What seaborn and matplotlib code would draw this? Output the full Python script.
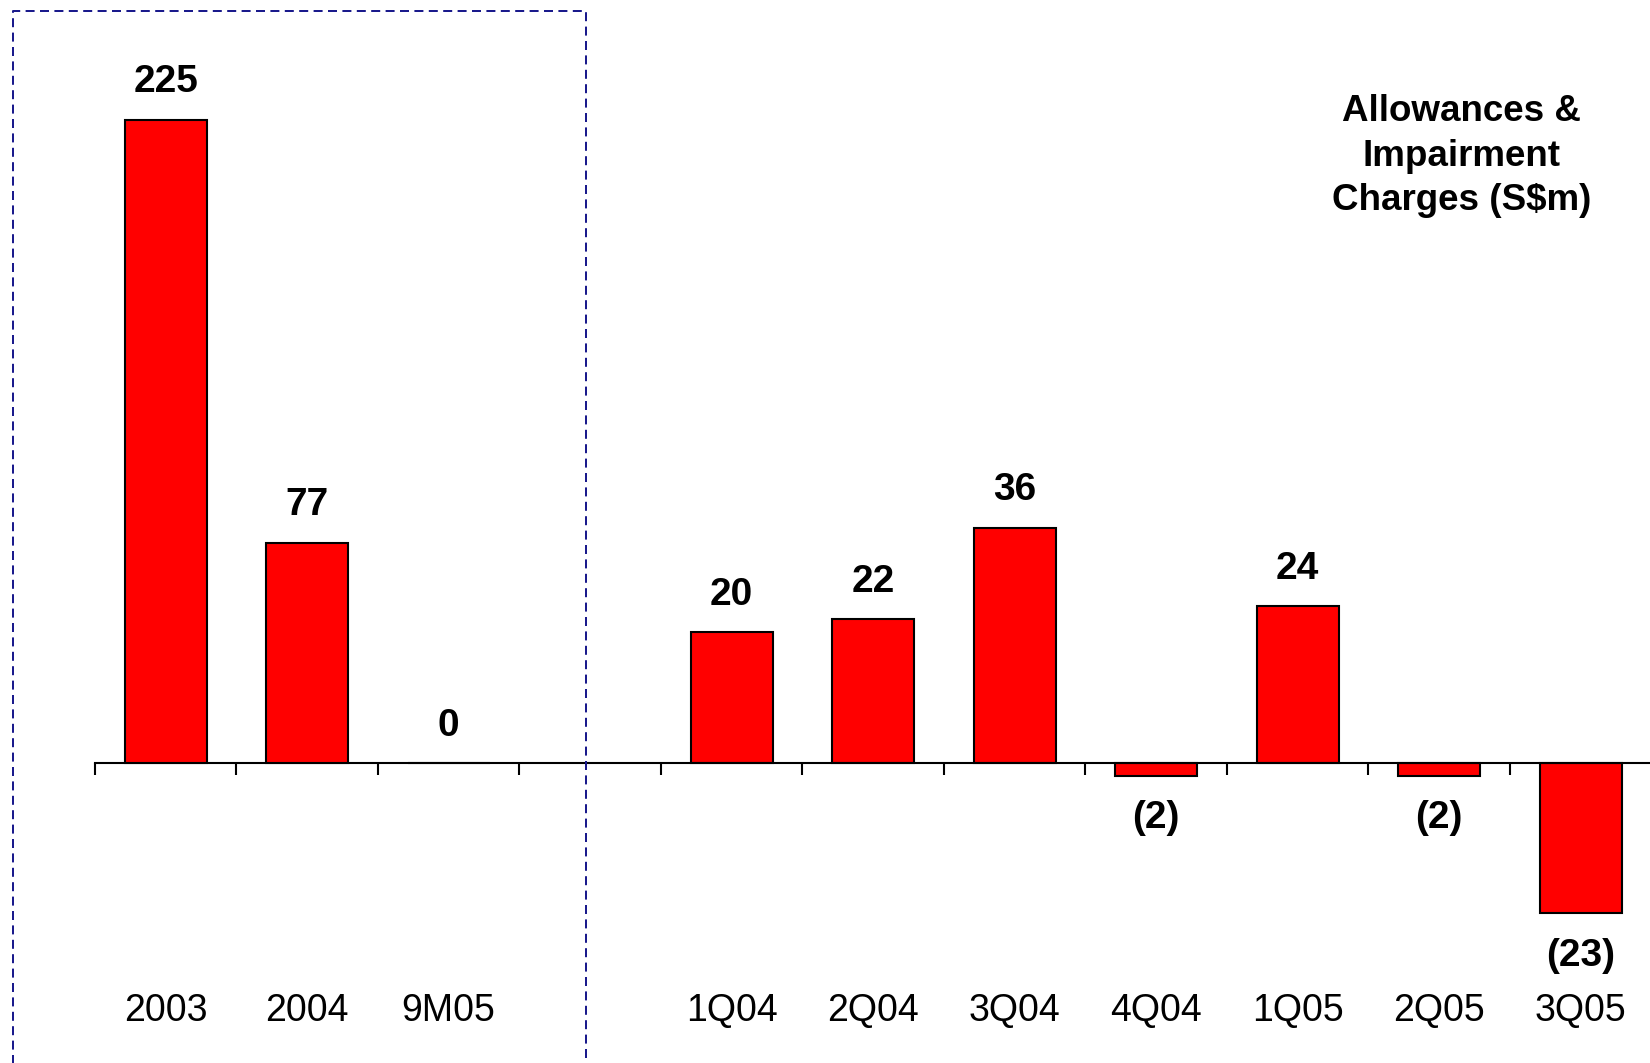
import matplotlib
matplotlib.use("Agg")
import matplotlib.pyplot as plt
import matplotlib.lines as mlines
import seaborn as sns

sns.set_theme(style="white")
plt.rcParams['font.family'] = ['Liberation Sans', 'DejaVu Sans']
plt.rcParams['text.color'] = 'black'

# Data
slot_labels = ["2003", "2004", "9M05", " ", "1Q04", "2Q04", "3Q04", "4Q04", "1Q05", "2Q05", "3Q05"]
annual_labels = ["2003", "2004", "9M05"]
annual_values = [225, 77, 0]
quarter_labels = ["1Q04", "2Q04", "3Q04", "4Q04", "1Q05", "2Q05", "3Q05"]
quarter_values = [20, 22, 36, -2, 24, -2, -23]

fig = plt.figure(figsize=(16.5, 10.63), dpi=100)
ax_q = fig.add_axes([0.0575, 0.0, 0.9433, 1.0])
ax_a = ax_q.twinx()

bar_style = dict(color="#ff0000", edgecolor="black", linewidth=1.5, width=0.58, saturation=1)
sns.barplot(x=quarter_labels, y=quarter_values, order=slot_labels, ax=ax_q, **bar_style)
sns.barplot(x=annual_labels, y=annual_values, order=slot_labels, ax=ax_a, **bar_style)

# two scales with a common zero line
ax_q.set_ylim(-45.9, 116.7)
ax_a.set_ylim(-104.9, 266.8)
ax_q.set_xlim(-0.5, 10.5)

for ax in (ax_q, ax_a):
    ax.set_xlabel("")
    ax.set_ylabel("")
    ax.set_yticks([])
    for s in ax.spines.values():
        s.set_visible(False)
    # value labels
    for p in ax.patches:
        h = p.get_height()
        x = p.get_x() + p.get_width() / 2
        txt = f"{h:.0f}" if h >= 0 else f"({-h:.0f})"
        off = 27 if h >= 0 else -30.5
        ax.annotate(txt, (x, h), xytext=(0, off), textcoords="offset points",
                    ha="center", va="center", fontsize=28, fontweight="bold",
                    color="black")

# category axis on the zero line
ax_q.spines["bottom"].set_visible(True)
ax_q.spines["bottom"].set_position(("data", 0))
ax_q.spines["bottom"].set_color("black")
ax_q.spines["bottom"].set_linewidth(1.5)
ax_q.set_xticks(range(len(slot_labels)), slot_labels)
ax_q.set_xticks([i - 0.5 for i in range(len(slot_labels))], minor=True)
ax_q.tick_params(axis="x", which="major", bottom=True, length=0, pad=166,
                 labelsize=27, labelcolor="black")
ax_q.tick_params(axis="x", which="minor", bottom=True, length=8.6, width=1.5,
                 direction="out", color="black")

# heading
fig.text(0.886, 0.853, "Allowances &\nImpairment\nCharges (S$m)", ha="center",
         va="center", fontsize=26.5, fontweight="bold", linespacing=1.35,
         color="black")

# dashed box around the full-year figures
x0, x1, y_top, y_bot = 0.0076, 0.355, 0.990, -0.01
fig.add_artist(mlines.Line2D([x0, x0, x1, x1], [y_bot, y_top, y_top, y_bot],
                             transform=fig.transFigure, color="#1a1a8c",
                             linewidth=1.44, linestyle=(0, (4.5, 2.7))))

fig.savefig("out.png", dpi=100)
